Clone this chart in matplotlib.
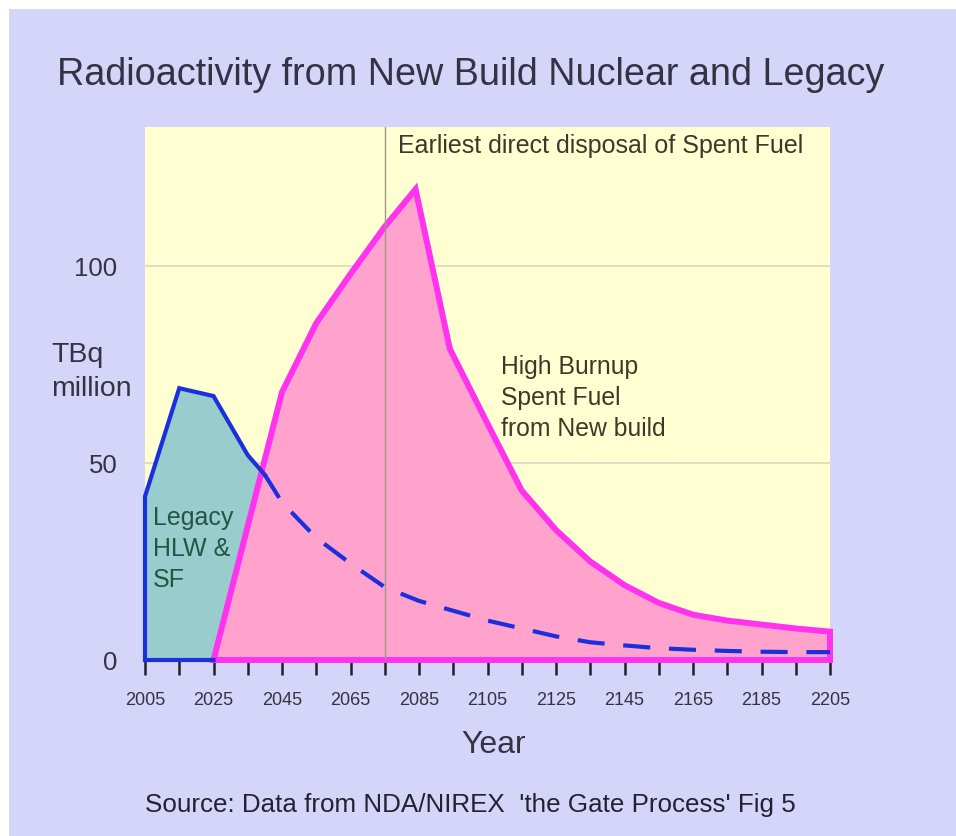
import matplotlib
matplotlib.use("Agg")
import matplotlib.pyplot as plt
from matplotlib.patches import Rectangle

# --------------------
# DATA
# --------------------
legacy_years = [2005, 2005, 2015, 2025, 2035, 2040]
legacy_vals = [0, 41.5, 69, 67, 52, 47]

decay_years = [2040, 2045, 2055, 2065, 2075, 2085, 2095, 2105, 2115,
               2125, 2135, 2145, 2155, 2165, 2175, 2185, 2195, 2205]
decay_vals = [47, 40, 31, 24.5, 18.5, 15, 12.5, 10, 8,
              6, 4.5, 3.7, 3, 2.6, 2.3, 2.1, 2, 2]

newbuild_years = [2025, 2035, 2045, 2055, 2065, 2075, 2084, 2094, 2105, 2115,
                  2125, 2135, 2145, 2155, 2165, 2175, 2185, 2195, 2205, 2205]
newbuild_vals = [0, 34, 68, 85.5, 98, 110, 119.5, 79, 60, 43,
                 33, 25, 19, 14.5, 11.5, 10, 9, 8, 7.2, 0]

x_ticks = list(range(2005, 2206, 10))
x_labels = [str(y) if (y - 2005) % 20 == 0 else "" for y in x_ticks]
y_ticks = [0, 50, 100]
disposal_year = 2075

BG = "#d5d5fa"
PLOT_BG = "#ffffd2"
TXT = "#333344"

plt.rcParams["font.family"] = ["Liberation Sans", "DejaVu Sans"]

fig = plt.figure(figsize=(9.56, 8.36), dpi=100, facecolor="white")
fig.patches.append(Rectangle((9 / 956, 0), 1, (836 - 9) / 836, transform=fig.transFigure,
                             facecolor=BG, edgecolor="none", zorder=-10))

ax = fig.add_axes([145 / 956, 1 - 660 / 836, (830 - 145) / 956, (660 - 127) / 836])
ax.set_facecolor(PLOT_BG)
ax.set_xlim(2005, 2205)
ax.set_ylim(0, 135.3)
for s in ax.spines.values():
    s.set_visible(False)

# grid
for v in [50, 100]:
    ax.axhline(v, color="#d8d8c0", lw=1.2, zorder=1)

# legacy fill
ax.fill(legacy_years + [2040], legacy_vals + [0], color="#99cccc", zorder=2, lw=0)

# new build fill + edge
ax.fill(newbuild_years, newbuild_vals, facecolor="#ffa3cc", edgecolor="#ff33ee",
        lw=4.3, zorder=3, clip_on=False, joinstyle="miter")

ax.axvline(disposal_year, color="#9a9a88", lw=1.0, zorder=4)

# legacy line
ax.plot([2025] + legacy_years, [0] + legacy_vals, color="#1a30dd", lw=3.0,
        zorder=5, clip_on=False, solid_joinstyle="miter")
ax.plot(decay_years, decay_vals, color="#1a30dd", lw=3.0, zorder=5,
        dashes=(6.5, 4.5), clip_on=False)

ax.set_xticks(x_ticks)
ax.set_xticklabels(x_labels)
ax.set_yticks(y_ticks)
ax.set_yticklabels([str(v) for v in y_ticks])
ax.tick_params(axis="x", length=11, width=1.8, color="#222222", pad=12,
               labelsize=13, labelcolor=TXT)
ax.tick_params(axis="y", length=0, pad=20, labelsize=18.5, labelcolor=TXT)

fig.text(471 / 956, 1 - 75 / 836, "Radioactivity from New Build Nuclear and Legacy",
         ha="center", va="center", fontsize=27.2, color=TXT)
fig.text(51 / 956, 1 - 372 / 836, "TBq\nmillion", ha="left", va="center",
         fontsize=20.5, color=TXT, linespacing=1.45)
fig.text(494 / 956, 1 - 745 / 836, "Year", ha="center", va="center", fontsize=23, color=TXT)
fig.text(470 / 956, 1 - 805 / 836, "Source: Data from NDA/NIREX  'the Gate Process' Fig 5",
         ha="center", va="center", fontsize=18.7, color="#222233")

ax.text(2079, 130.5, "Earliest direct disposal of Spent Fuel", ha="left", va="center",
        fontsize=18, color="#3a3a2a", zorder=6)
ax.text(2109, 66.5, "High Burnup\nSpent Fuel\nfrom New build", ha="left", va="center",
        fontsize=17.8, color="#3a3a2a", linespacing=1.38, zorder=6)
ax.text(2007.3, 28.2, "Legacy\nHLW &\nSF", ha="left", va="center",
        fontsize=18, color="#225544", linespacing=1.38, zorder=6)

fig.savefig("out.png", dpi=100, facecolor=fig.get_facecolor())
